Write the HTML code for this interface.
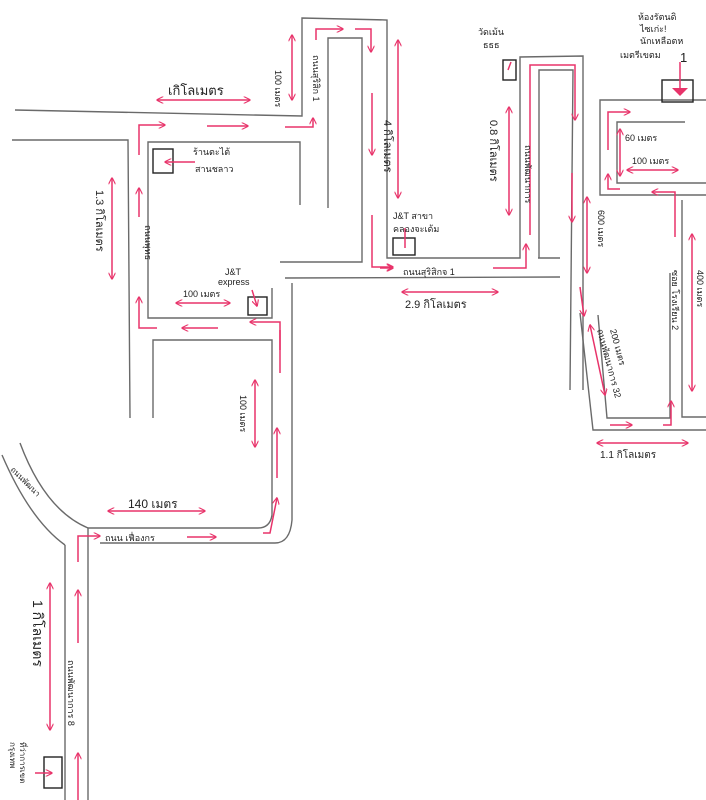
<!DOCTYPE html>
<html><head><meta charset="utf-8">
<style>
html,body{margin:0;padding:0;background:#fff;}
svg{display:block;}
text{font-family:"Liberation Sans","Noto Sans CJK SC",sans-serif;fill:#222;}
</style></head>
<body>
<svg width="706" height="800" viewBox="0 0 706 800" xmlns="http://www.w3.org/2000/svg">
<defs>
<marker id="a" viewBox="0 0 10 10" refX="9" refY="5" markerWidth="7" markerHeight="7" orient="auto-start-reverse" markerUnits="userSpaceOnUse">
<path d="M0,0 L10,5 L0,10" fill="none" stroke="#e8336a" stroke-width="1.6"/>
</marker>
</defs>
<rect width="706" height="800" fill="#fff"/>
<g fill="none" stroke="#6a6a6a" stroke-width="1.4">
<!-- top road -->
<path d="M15,110 L302,116 L302,18 L387,20 L387,258 L520,258 L520,57 L583,56 L583,390"/>
<path d="M12,140 L128,140 L130,418"/>
<path d="M300,205 L300,142 L148,142 L148,318 L272,318 L272,288"/>
<path d="M328,208 L328,38 L362,38 L362,262 L280,262"/>
<path d="M285,278 L560,277"/>
<path d="M538,258 L560,258"/>
<path d="M539,258 L539,70 L573,70 L570,390"/>
<!-- lower block -->
<path d="M153,418 L153,340 L272,340 L272,515 Q270,528 258,528 L88,528 L88,800"/>
<path d="M292,283 L292,520 Q290,543 275,543 L100,543"/>
<path d="M65,800 L65,545"/>
<path d="M2,455 Q30,520 65,545"/>
<path d="M20,443 Q45,510 88,528"/>
<!-- right part -->
<path d="M706,100 L600,100 L600,195 L706,195"/>
<path d="M685,122 L617,122 L617,183 L706,183"/>
<path d="M670,273 L670,418 L607,418 L598,315"/>
<path d="M682,200 L682,417 L706,417"/>
<path d="M580,313 L593,430 L706,430"/>
</g>
<!-- boxes -->
<g fill="none" stroke="#222" stroke-width="1.4">
<rect x="153" y="149" width="20" height="24"/>
<rect x="248" y="297" width="19" height="18"/>
<rect x="393" y="238" width="22" height="17"/>
<rect x="503" y="60" width="13" height="20"/>
<rect x="662" y="80" width="31" height="22"/>
<rect x="44" y="757" width="18" height="31"/>
</g>
<path d="M672,88 L688,88 L680,96 Z" fill="#e8336a"/>
<!-- red arrows -->
<g fill="none" stroke="#e8336a" stroke-width="1.5">
<path d="M157,100 L250,100" marker-start="url(#a)" marker-end="url(#a)"/>
<path d="M292,35 L292,100" marker-start="url(#a)" marker-end="url(#a)"/>
<path d="M139,155 L139,125 L165,125" marker-end="url(#a)"/>
<path d="M207,126 L248,126" marker-end="url(#a)"/>
<path d="M285,127 L313,127 L313,118" marker-end="url(#a)"/>
<path d="M316,40 L316,29 L343,29" marker-end="url(#a)"/>
<path d="M355,29 L371,29 L371,52" marker-end="url(#a)"/>
<path d="M372,93 L372,155" marker-end="url(#a)"/>
<path d="M398,40 L398,198" marker-start="url(#a)" marker-end="url(#a)"/>
<path d="M372,215 L372,267 L393,267" marker-end="url(#a)"/>
<path d="M380,268 L393,268" marker-end="url(#a)"/>
<path d="M493,268 L526,268 L526,244" marker-end="url(#a)"/>
<path d="M402,292 L498,292" marker-start="url(#a)" marker-end="url(#a)"/>
<path d="M509,107 L509,215" marker-start="url(#a)" marker-end="url(#a)"/>
<path d="M530,235 L530,65 L575,65 L575,120" marker-end="url(#a)"/>
<path d="M572,173 L572,222" marker-end="url(#a)"/>
<path d="M587,197 L587,273" marker-start="url(#a)" marker-end="url(#a)"/>
<path d="M580,287 L584,316" marker-end="url(#a)"/>
<path d="M590,325 L605,395" marker-start="url(#a)" marker-end="url(#a)"/>
<path d="M610,425 L632,425" marker-end="url(#a)"/>
<path d="M663,425 L671,425 L671,401" marker-end="url(#a)"/>
<path d="M597,443 L688,443" marker-start="url(#a)" marker-end="url(#a)"/>
<path d="M692,234 L692,391" marker-start="url(#a)" marker-end="url(#a)"/>
<path d="M675,237 L675,192 L652,192" marker-end="url(#a)"/>
<path d="M620,189 L608,189 L608,174" marker-end="url(#a)"/>
<path d="M608,150 L608,112 L630,112" marker-end="url(#a)"/>
<path d="M620,129 L620,176" marker-start="url(#a)" marker-end="url(#a)"/>
<path d="M627,170 L678,170" marker-start="url(#a)" marker-end="url(#a)"/>
<path d="M680,62 L680,88"/>
<path d="M112,178 L112,279" marker-start="url(#a)" marker-end="url(#a)"/>
<path d="M139,217 L139,188" marker-end="url(#a)"/>
<path d="M157,328 L139,328 L139,297" marker-end="url(#a)"/>
<path d="M218,328 L182,328" marker-end="url(#a)"/>
<path d="M280,350 L280,322 L250,322" marker-end="url(#a)"/>
<path d="M176,303 L230,303" marker-start="url(#a)" marker-end="url(#a)"/>
<path d="M195,162 L165,162" marker-end="url(#a)"/>
<path d="M252,290 L257,306" marker-end="url(#a)"/>
<path d="M280,330 L280,373"/>
<path d="M277,478 L277,428" marker-end="url(#a)"/>
<path d="M263,533 L270,533 L277,498" marker-end="url(#a)"/>
<path d="M255,380 L255,447" marker-start="url(#a)" marker-end="url(#a)"/>
<path d="M108,511 L205,511" marker-start="url(#a)" marker-end="url(#a)"/>
<path d="M78,562 L78,536 L100,536" marker-end="url(#a)"/>
<path d="M187,537 L216,537" marker-end="url(#a)"/>
<path d="M78,643 L78,590" marker-end="url(#a)"/>
<path d="M78,800 L78,753" marker-end="url(#a)"/>
<path d="M50,583 L50,730" marker-start="url(#a)" marker-end="url(#a)"/>
<path d="M35,773 L52,773" marker-end="url(#a)"/>
<path d="M405,248 L405,228"/>
<path d="M508,70 L511,62"/>
</g>
<!-- labels -->
<g font-size="9">
<text x="168" y="95" font-size="13">เกิโลเมตร</text>
<text x="193" y="155">ร้านตะไต้</text>
<text x="195" y="172">สานชลาว</text>
<text x="225" y="275">J&amp;T</text>
<text x="218" y="285">express</text>
<text x="183" y="297">100 เมตร</text>
<text x="393" y="219">J&amp;T สาขา</text>
<text x="393" y="232">คลองจะเด้ม</text>
<text x="403" y="275">ถนนสุริสิกจ 1</text>
<text x="405" y="308" font-size="11">2.9 กิโลเมตร</text>
<text x="478" y="35">วัดเม้น</text>
<text x="483" y="48">ธธธ</text>
<text x="638" y="20">ห้องรัตนดิ</text>
<text x="640" y="32">ไซเก่ะ!</text>
<text x="640" y="44">นักเหลือตห</text>
<text x="620" y="58">เมตรีเขตม</text>
<text x="680" y="62" font-size="13">1</text>
<text x="625" y="141">60 เมตร</text>
<text x="632" y="164">100 เมตร</text>
<text x="600" y="458" font-size="10">1.1 กิโลเมตร</text>
<text x="128" y="508" font-size="12">140 เมตร</text>
<text x="105" y="541">ถนน เฟื่องกร</text>
<text transform="translate(275,70) rotate(90)">100 เมตร</text>
<text transform="translate(313,55) rotate(90)">ถนนสุริสิก 1</text>
<text transform="translate(384,120) rotate(90)" font-size="11">4 กิโลเมตร</text>
<text transform="translate(490,120) rotate(90)" font-size="11">0.8 กิโลเมตร</text>
<text transform="translate(525,145) rotate(90)">ถนนพัฒนาการ</text>
<text transform="translate(598,210) rotate(90)">600 เมตร</text>
<text transform="translate(597,330) rotate(75)">ถนนพัฒนาการ 32</text>
<text transform="translate(610,330) rotate(75)">200 เมตร</text>
<text transform="translate(672,270) rotate(90)">ซอย โรงเรียน 2</text>
<text transform="translate(697,270) rotate(90)">400 เมตร</text>
<text transform="translate(96,190) rotate(90)" font-size="11">1.3 กิโลเมตร</text>
<text transform="translate(145,225) rotate(90)">ถนนพุทธ</text>
<text transform="translate(240,395) rotate(90)">100 เมตร</text>
<text transform="translate(10,470) rotate(45)" font-size="8">ถนนพัฒนา</text>
<text transform="translate(33,600) rotate(90)" font-size="14">1 กิโลเมตร</text>
<text transform="translate(68,660) rotate(90)">ถนนพัฒนาการ 8</text>
<text transform="translate(20,742) rotate(90)" font-size="8">ที่ว่าการเขต</text>
<text transform="translate(10,742) rotate(90)" font-size="8">กรุงเทพ</text>
</g>
</svg>
</body></html>
